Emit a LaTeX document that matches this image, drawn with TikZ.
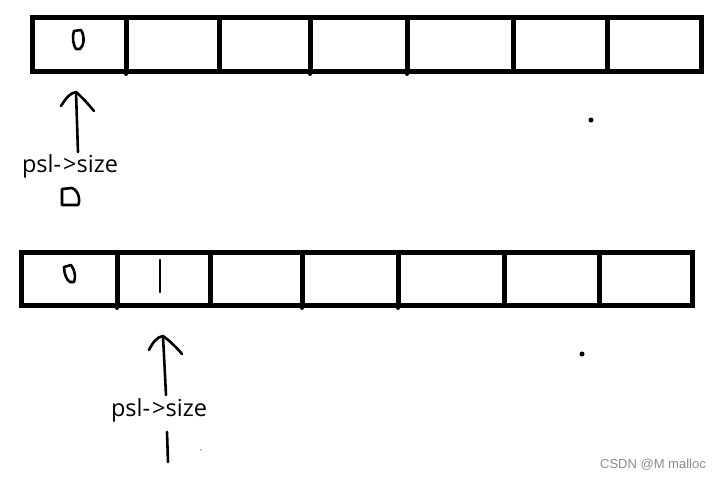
\documentclass[tikz,border=0pt]{standalone}
\usepackage{fontspec}
\setmainfont{Open Sans}
\newfontfamily\wmfont{Liberation Sans}
\begin{document}
\begin{tikzpicture}[x=1pt,y=-1pt,
  box/.style={line width=5pt,line join=miter},
  pen/.style={line width=2.6pt,line cap=round,line join=round},
  lbl/.style={font=\fontsize{23.5}{26}\selectfont,inner sep=0pt},
  dotmark/.style={circle,fill=black,inner sep=0pt,minimum size=5pt}]
\useasboundingbox (0,0) rectangle (721,479);
% ---- top array ----
\draw[box] (32,17) rectangle (701,71);
\foreach \x in {126,219,310,407,513,607} \draw[box] (\x,17) -- (\x,71);
\foreach \x in {126,310,407} \fill (\x,74) circle (2pt);
\draw[pen] (74,31) -- (81,30) .. controls (85,36) and (84,46) .. (80,49) -- (76,49) .. controls (73,45) and (72,36) .. (74,31) -- cycle;
% arrow top
\coordinate (t1) at (78,152);
\coordinate (t2) at (76,92);
\draw[pen] (t1) -- (t2);
\draw[pen] (61,106) .. controls (66,98) and (70,93) .. (t2) .. controls (82,97) and (88,104) .. (94,111);
\node[lbl] (ls1) at (70,166) {psl-{\kern2pt}>size};
\draw[pen] (62,205) -- (62,189) -- (72,188) .. controls (80,191) and (80,203) .. (78,205) -- cycle;
\node[dotmark] (d1) at (591,120) {};
% ---- bottom array ----
\draw[box] (21,252) rectangle (692,305);
\foreach \x in {117,210,302,398,504,599} \draw[box] (\x,252) -- (\x,305);
\foreach \x in {117,302,398} \fill (\x,308) circle (2pt);
\draw[pen] (64,267) -- (71,265) .. controls (75,270) and (76,278) .. (74,282) -- (70,282) .. controls (66,280) and (64,272) .. (64,267) -- cycle;
\draw[pen] (160,260) -- (160,292);
% arrow bottom
\coordinate (b1) at (166,395);
\coordinate (b2) at (163,336);
\draw[pen] (b1) -- (b2);
\draw[pen] (149,350) .. controls (153,342) and (157,337) .. (b2) .. controls (170,341) and (177,348) .. (182,354);
\node[lbl] (ls2) at (159,410) {psl-{\kern2pt}>size};
\draw[pen] (167,432) -- (168,462);
\fill (201,450) circle (0.6pt);
\node[dotmark] (d2) at (582,354) {};
% watermark
\node[font=\wmfont\fontsize{13}{15}\selectfont,text=black!45,anchor=east,inner sep=0pt] (wm) at (706,465) {CSDN @M malloc};
\end{tikzpicture}
\end{document}
